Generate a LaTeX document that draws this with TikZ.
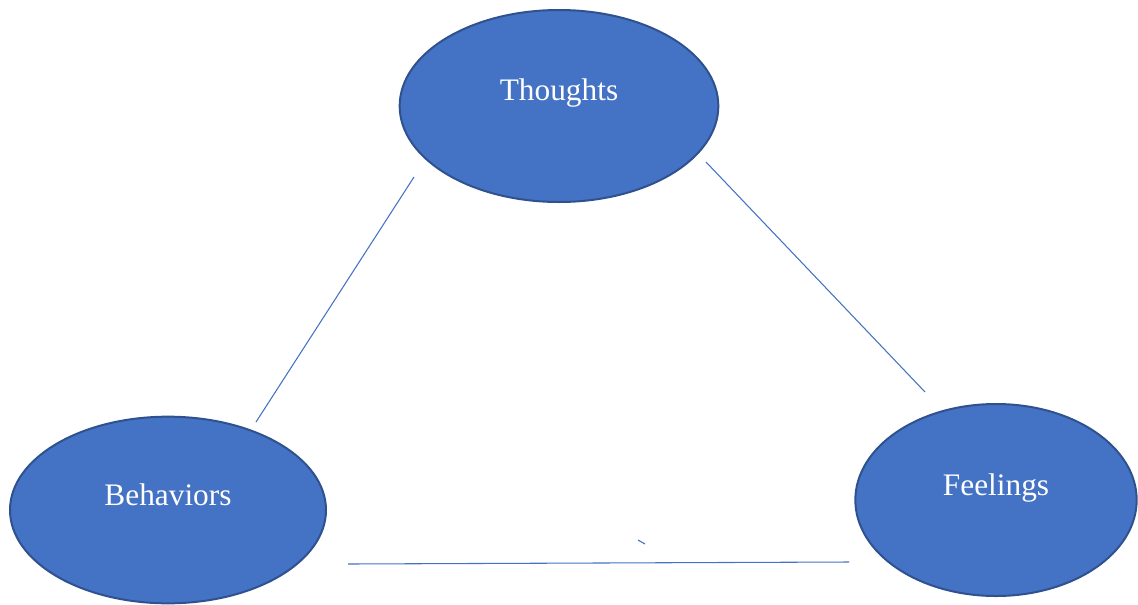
\documentclass[tikz,border=0pt]{standalone}
\usepackage{fontspec}
\setmainfont{Liberation Serif}
\usetikzlibrary{shapes.geometric}
\definecolor{fillblue}{HTML}{4472C4}
\definecolor{edgeblue}{HTML}{2F528F}
\tikzset{
  bubble/.style={ellipse, fill=fillblue, draw=edgeblue, line width=1.5pt, inner sep=0pt},
  lbl/.style={text=white, anchor=base, font=\fontsize{23.5}{28}\selectfont, inner sep=0pt},
  link/.style={draw=fillblue, line width=0.8pt}
}
\begin{document}
\begin{tikzpicture}[x=0.75pt,y=-0.75pt]
\useasboundingbox (0,0) rectangle (1138,604);
\node[bubble, minimum width=239pt, minimum height=144pt] (thoughts) at (559,106) {};
\node[bubble, minimum width=211pt, minimum height=144pt] (feelings) at (996,500) {};
\node[bubble, minimum width=237pt, minimum height=140pt] (behaviors) at (168,510) {};
\node[lbl] (tlbl) at (559,100) {Thoughts};
\node[lbl] (flbl) at (996,495) {Feelings};
\node[lbl] (blbl) at (168,505) {Behaviors};
\coordinate (a1) at (414,177);
\coordinate (a2) at (256,422);
\coordinate (b1) at (706,162);
\coordinate (b2) at (925,392);
\coordinate (c1) at (348,564);
\coordinate (c2) at (849,562);
\coordinate (d1) at (638,540);
\coordinate (d2) at (645,544);
\draw[link] (a1) -- (a2);
\draw[link] (b1) -- (b2);
\draw[link] (c1) -- (c2);
\draw[link] (d1) -- (d2);
\end{tikzpicture}
\end{document}
